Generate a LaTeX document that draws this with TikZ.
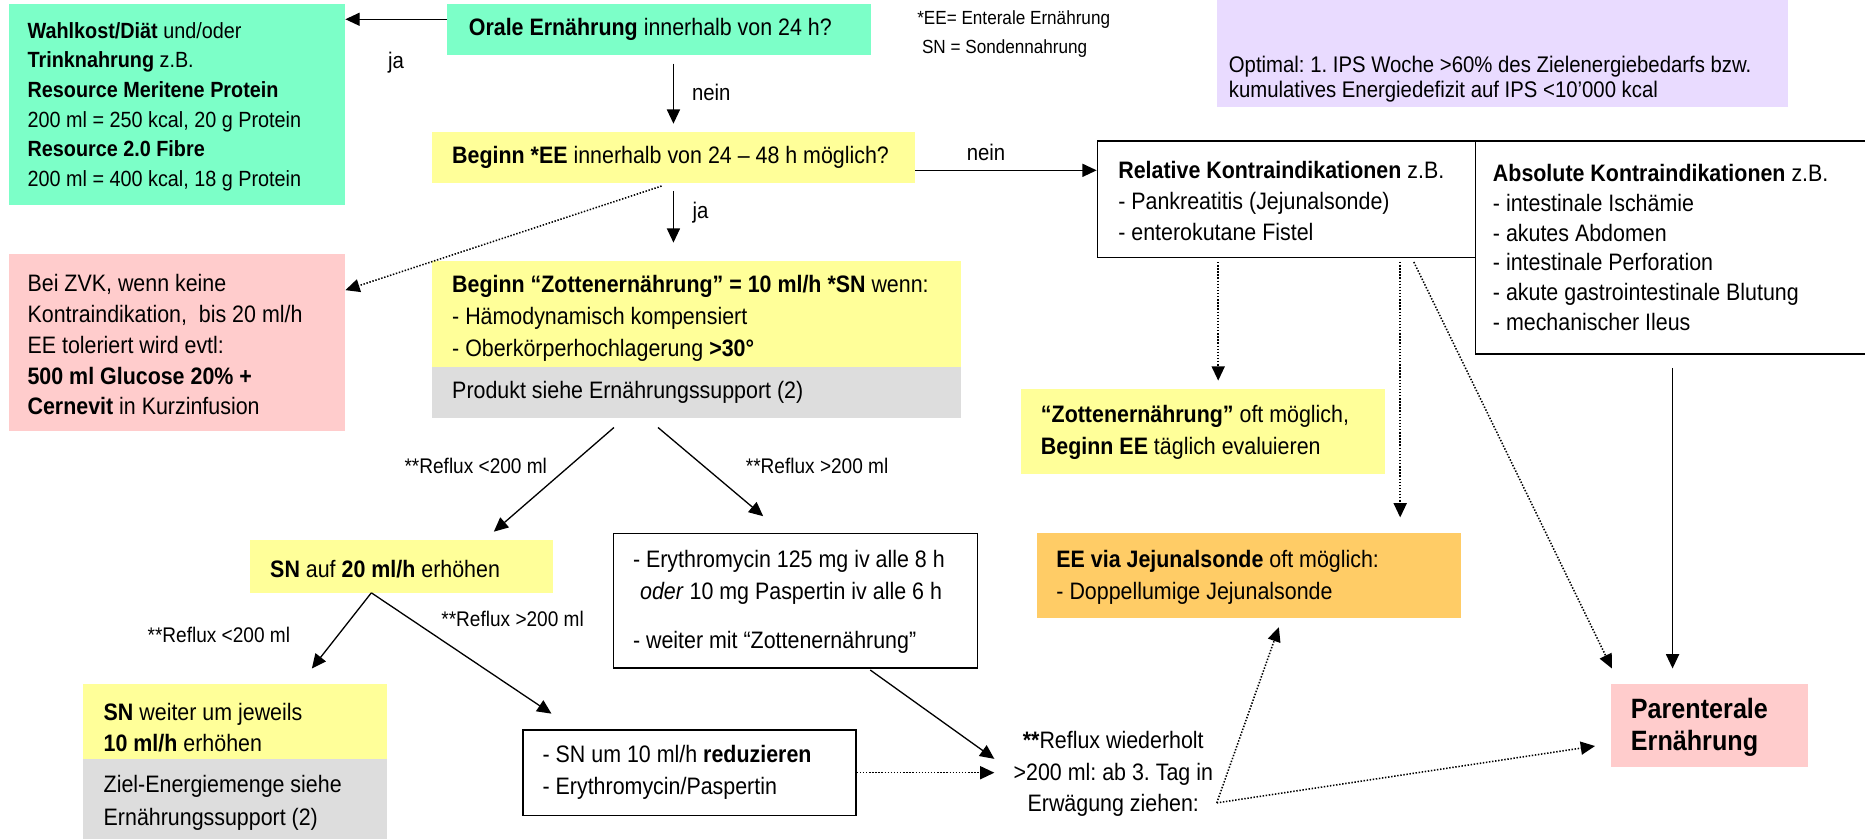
\documentclass[tikz,border=0pt]{standalone}
\usepackage{fontspec}
\setmainfont{Liberation Sans}[FakeStretch=0.9]
\usetikzlibrary{arrows.meta,calc}
\definecolor{mint}{HTML}{7CFFC8}
\definecolor{lyel}{HTML}{FFFF99}
\definecolor{lgray}{HTML}{DDDDDD}
\definecolor{lpink}{HTML}{FFCCCC}
\definecolor{lav}{HTML}{E9DBFF}
\definecolor{lorange}{HTML}{FFCC66}
\begin{document}
\frenchspacing
\begin{tikzpicture}[x=1pt,y=-1pt,
  bx/.style={inner sep=0pt, anchor=north west},
  frame/.style={bx, draw=black, line width=1.3pt},
  txt/.style={inner sep=0pt, anchor=west, align=left, font=\fontsize{20}{26}\selectfont},
  lbl/.style={inner sep=0pt, font=\fontsize{17.8}{20}\selectfont},
  arr/.style={-{Triangle[length=12pt,width=11pt]}, line width=1.1pt},
  dotarr/.style={-{Triangle[length=12pt,width=11pt]}, line width=1.3pt, dash pattern=on 1.2pt off 1.4pt},
]
\useasboundingbox (0,0) rectangle (1568,705);

% boxes
\node[bx, fill=mint, minimum width=283pt, minimum height=169pt] (G1) at (7,3) {};
\node[bx, fill=mint, minimum width=356pt, minimum height=43pt] (O) at (376,3) {};
\node[bx, fill=lav, minimum width=480pt, minimum height=100pt] (pur) at (1023,-10) {};
\node[bx, fill=lyel, minimum width=406pt, minimum height=43pt] (B) at (363,111) {};
\node[bx, fill=lyel, minimum width=445pt, minimum height=89pt] (Zot) at (363,219) {};
\node[bx, fill=lgray, minimum width=445pt, minimum height=43pt] (Zotg) at (363,308) {};
\node[bx, fill=lpink, minimum width=283pt, minimum height=149pt] (P1) at (7,213) {};
\node[frame, minimum width=318pt, minimum height=98pt] (Rel) at (922,118) {};
\node[frame, minimum width=340pt, minimum height=179pt] (Abs) at (1240,118) {};
\node[bx, fill=lyel, minimum width=306pt, minimum height=71pt] (ZE) at (858,327) {};
\node[bx, fill=lorange, minimum width=356pt, minimum height=71pt] (EEJ) at (872,448) {};
\node[bx, fill=lpink, minimum width=166pt, minimum height=70pt] (PE) at (1354,575) {};
\node[bx, fill=lyel, minimum width=255pt, minimum height=44pt] (SN20) at (210,454) {};
\node[frame, minimum width=306pt, minimum height=113pt] (Ery) at (515,448) {};
\node[bx, fill=lyel, minimum width=255pt, minimum height=63pt] (SW) at (70,575) {};
\node[bx, fill=lgray, minimum width=255pt, minimum height=70pt] (SWg) at (70,638) {};
\node[frame, minimum width=280pt, minimum height=72pt] (SR) at (439,613) {};

% texts
\node[txt, font=\fontsize{18.5}{25}\selectfont] (G1t) at ($(G1.west)+(16,2)$) {\textbf{Wahlkost/Diät} und/oder\\\textbf{Trinknahrung} z.B.\\\textbf{Resource Meritene Protein}\\200 ml = 250 kcal, 20 g Protein\\\textbf{Resource 2.0 Fibre}\\200 ml = 400 kcal, 18 g Protein};
\node[txt] (Ot) at ($(O.west)+(18,0)$) {\textbf{Orale Ernährung} innerhalb von 24 h?};
\node[txt, font=\fontsize{16}{24}\selectfont] (leg) at (771,28.5) {*EE= Enterale Ernährung\\\hspace{0.25em}SN = Sondennahrung};
\node[txt, font=\fontsize{19}{21}\selectfont] (purt) at (1033,66.5) {Optimal: 1. IPS Woche >60\% des Zielenergiebedarfs bzw.\\kumulatives Energiedefizit auf IPS <10’000 kcal};
\node[txt] (Bt) at ($(B.west)+(17,0)$) {\textbf{Beginn *EE} innerhalb von 24 – 48 h möglich?};
\node[txt, font=\fontsize{20}{27}\selectfont] (Zott) at ($(Zot.west)+(17,4)$) {\textbf{Beginn “Zottenernährung” = 10 ml/h *SN} wenn:\\- Hämodynamisch kompensiert\\- Oberkörperhochlagerung \textbf{>30°}};
\node[txt] (Zotgt) at ($(Zotg.west)+(17,0)$) {Produkt siehe Ernährungssupport (2)};
\node[txt] (P1t) at ($(P1.west)+(16,2)$) {Bei ZVK, wenn keine\\Kontraindikation,\ \ bis 20 ml/h\\EE toleriert wird evtl:\\\textbf{500 ml Glucose 20\% +}\\\textbf{Cernevit} in Kurzinfusion};
\node[txt] (Relt) at ($(Rel.west)+(18,1)$) {\textbf{Relative Kontraindikationen} z.B.\\- Pankreatitis (Jejunalsonde)\\- enterokutane Fistel};
\node[txt, font=\fontsize{20}{25}\selectfont] (Abst) at ($(Abs.west)+(15,0)$) {\textbf{Absolute Kontraindikationen} z.B.\\- intestinale Ischämie\\- akutes Abdomen\\- intestinale Perforation\\- akute gastrointestinale Blutung\\- mechanischer Ileus};
\node[txt, font=\fontsize{20}{27}\selectfont] (ZEt) at ($(ZE.west)+(17,1)$) {\textbf{“Zottenernährung”} oft möglich,\\\textbf{Beginn EE} täglich evaluieren};
\node[txt, font=\fontsize{20}{27}\selectfont] (EEJt) at ($(EEJ.west)+(16,2)$) {\textbf{EE via Jejunalsonde} oft möglich:\\- Doppellumige Jejunalsonde};
\node[txt, font=\fontsize{23.5}{27}\selectfont\bfseries] (PEt) at ($(PE.west)+(17,1)$) {Parenterale\\Ernährung};
\node[txt] (SN20t) at ($(SN20.west)+(17,2)$) {\textbf{SN} auf \textbf{20 ml/h} erhöhen};
\node[txt, font=\fontsize{20}{27}\selectfont] (Eryt) at ($(Ery.west)+(17,1)$) {- Erythromycin 125 mg iv alle 8 h\\\hspace{0.3em}\textit{oder} 10 mg Paspertin iv alle 6 h\\[14pt]- weiter mit “Zottenernährung”};
\node[txt] (SWt) at ($(SW.west)+(17,5)$) {\textbf{SN} weiter um jeweils\\\textbf{10 ml/h} erhöhen};
\node[txt, font=\fontsize{20}{28}\selectfont] (SWgt) at ($(SWg.west)+(17,2)$) {Ziel-Energiemenge siehe\\Ernährungssupport (2)};
\node[txt, font=\fontsize{20}{27}\selectfont] (SRt) at ($(SR.west)+(17,0)$) {- SN um 10 ml/h \textbf{reduzieren}\\- Erythromycin/Paspertin};
\node[txt, anchor=center, align=center, font=\fontsize{20}{26.5}\selectfont] (RT) at (936,651) {\textbf{**}Reflux wiederholt\\>200 ml: ab 3. Tag in\\Erwägung ziehen:};

% labels
\node[lbl, font=\fontsize{19}{20}\selectfont] (lja1) at (333,53) {ja};
\node[lbl, font=\fontsize{19}{20}\selectfont] (lnein1) at (598,78) {nein};
\node[lbl, font=\fontsize{19}{20}\selectfont] (lja2) at (589,179) {ja};
\node[lbl, font=\fontsize{19}{20}\selectfont] (lnein2) at (829,128) {nein};
\node[lbl] (lr1) at (400,392) {**Reflux <200 ml};
\node[lbl] (lr2) at (687,392) {**Reflux >200 ml};
\node[lbl] (lr3) at (184,534) {**Reflux <200 ml};
\node[lbl] (lr4) at (431,520) {**Reflux >200 ml};

% connectors
\draw[arr] ($(O.west)+(0,-8.5)$) -- ($(O.west -| G1.east)+(0,-8.5)$);
\draw[arr] ($(O.south -| B.north)+(0,7)$) -- ($(B.north)+(0,-7)$);
\draw[arr] ($(B.south)+(0,6)$) -- ($(B.south |- Zot.north)+(0,-15)$);
\draw[arr] ($(B.east)+(0,10.5)$) -- ($(B.east -| Rel.west)+(0,10.5)$);
\draw[dotarr] ($(B.south)+(-10,2)$) -- ($(P1.north east)!0.207!(P1.south east)$);
\draw[arr] ($(Zotg.south)+(-69.5,8)$) -- ($(SN20.north)+(77.5,-7)$);
\draw[arr] ($(Zotg.south)+(-32.5,8)$) -- ($(Ery.north)+(-27,-14)$);
\draw[arr] ($(SN20.south)+(-25.5,0)$) -- ($(SW.north)+(64.5,-13)$);
\draw[arr] ($(SN20.south)+(-25.5,0)$) -- ($(SR.north)+(-116,-13)$);
\draw[arr] ($(Ery.south)+(63,1)$) -- ($(RT.west)+(-16,-13)$);
\draw[dotarr] (SR.east) -- ($(SR.east -| RT.west)+(-16,0)$);
\draw[dotarr] ($(RT.east)+(3,24)$) -- ($(EEJ.south)+(25,8)$);
\draw[dotarr] ($(RT.east)+(3,24)$) -- ($(PE.west)+(-13,17)$);
\draw[dotarr] ($(Rel.south -| ZE.north)+(13,3)$) -- ($(ZE.north)+(13,-7)$);
\draw[dotarr] ($(Rel.south -| EEJ.north)+(127,3)$) -- ($(EEJ.north)+(127,-13)$);
\draw[dotarr] ($(Rel.south)+(107,3)$) -- ($(PE.north)+(-82,-13)$);
\draw[arr] ($(Abs.south -| PE.north)+(-31,11)$) -- ($(PE.north)+(-31,-13)$);
\end{tikzpicture}
\end{document}
